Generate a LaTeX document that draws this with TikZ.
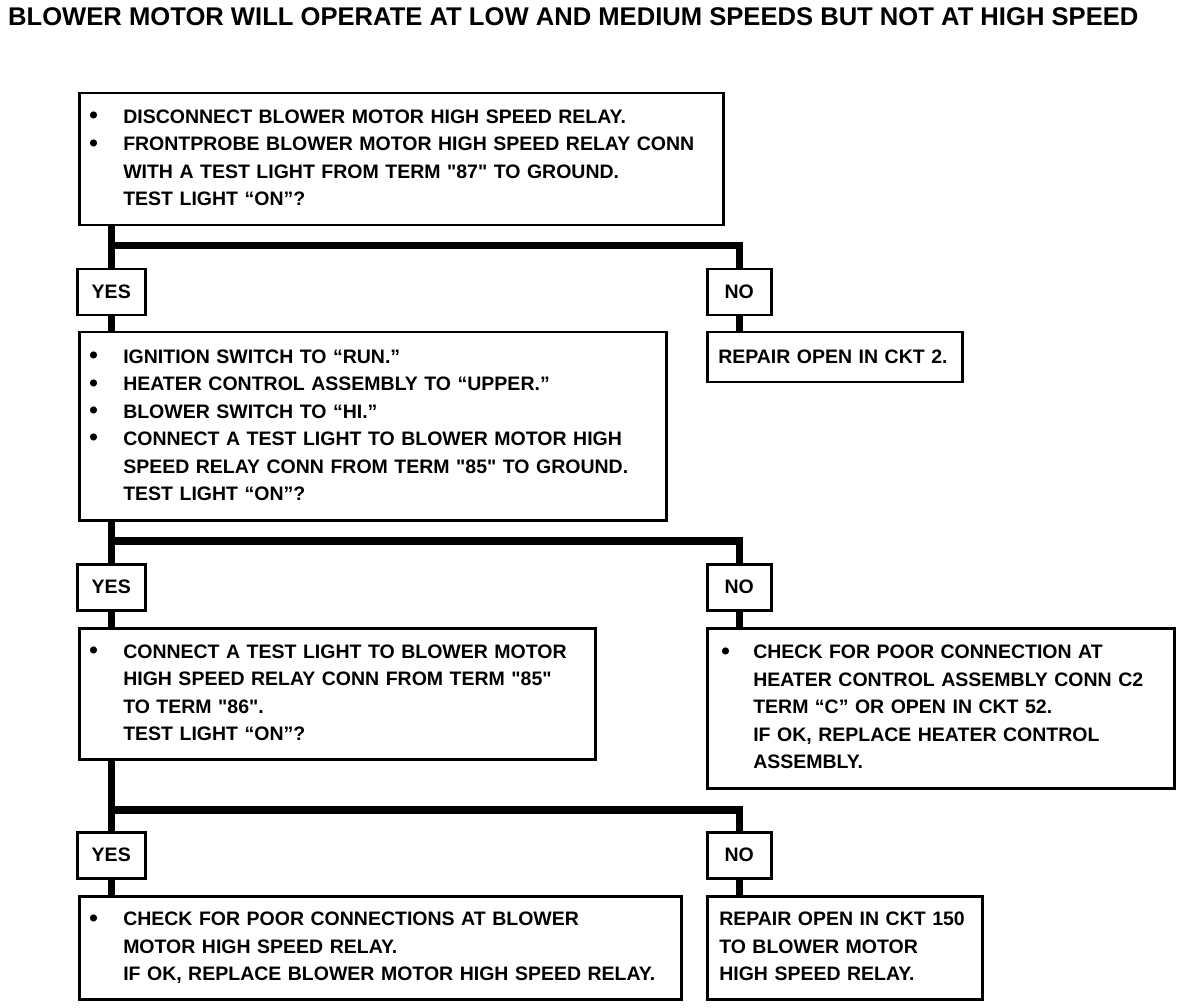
\documentclass[tikz,border=0pt]{standalone}
\usepackage{fontspec}
\setmainfont{Liberation Sans}
\newcommand\bodyfont{\fontsize{19.5}{27.5}\selectfont\bfseries}
\newcommand\titlefont{\fontsize{25.6}{28}\selectfont\bfseries}
\newcommand\qd{\textquotedbl}
\newcommand\bul{\raisebox{-0.5pt}{\scalebox{1.25}{•}}}
\tikzset{
  box/.style={draw, line width=2.5pt, anchor=north west, inner ysep=0pt, font=\bodyfont},
  tag/.style={draw, line width=2.5pt, anchor=north west, inner sep=0pt, font=\bodyfont, minimum height=46pt},
  yestag/.style={tag, minimum width=68pt},
  notag/.style={tag, minimum width=64pt},
  wire/.style={line width=7.5pt, line join=miter, line cap=butt}
}
\begin{document}
\begin{tikzpicture}[x=1pt,y=-1pt]
\useasboundingbox (0,0) rectangle (1184,1008);

\node[anchor=base west, inner sep=0pt, font=\titlefont] (title) at (8,26)
  {BLOWER MOTOR WILL OPERATE AT LOW AND MEDIUM SPEEDS BUT NOT AT HIGH SPEED};

% row 1
\node[box, minimum width=644pt, minimum height=132pt, inner xsep=10pt, text width=624pt] (b1) at (78,92)
  {\begin{tabular}{@{}p{34pt}@{}l@{}}
   \bul & DISCONNECT BLOWER MOTOR HIGH SPEED RELAY.\\
   \bul & FRONTPROBE BLOWER MOTOR HIGH SPEED RELAY CONN\\
     & WITH A TEST LIGHT FROM TERM \qd 87\qd\ TO GROUND.\\
     & TEST LIGHT “ON”?
   \end{tabular}};

\node[yestag] (y1) at (76,268) {YES};
\node[notag] (n1) at (706,268) {NO};

\node[box, minimum width=587pt, minimum height=188pt, inner xsep=10pt, text width=567pt] (b2) at (78,331)
  {\begin{tabular}{@{}p{34pt}@{}l@{}}
   \bul & IGNITION SWITCH TO “RUN.”\\
   \bul & HEATER CONTROL ASSEMBLY TO “UPPER.”\\
   \bul & BLOWER SWITCH TO “HI.”\\
   \bul & CONNECT A TEST LIGHT TO BLOWER MOTOR HIGH\\
     & SPEED RELAY CONN FROM TERM \qd 85\qd\ TO GROUND.\\
     & TEST LIGHT “ON”?
   \end{tabular}};

\node[box, minimum width=255pt, minimum height=50pt, inner xsep=11pt, text width=233pt] (c2) at (706,331)
  {REPAIR OPEN IN CKT 2.};

% row 2
\node[yestag] (y2) at (76,563) {YES};
\node[notag] (n2) at (706,563) {NO};

\node[box, minimum width=516pt, minimum height=131pt, inner xsep=10pt, text width=496pt] (b3) at (78,627)
  {\begin{tabular}{@{}p{34pt}@{}l@{}}
   \bul & CONNECT A TEST LIGHT TO BLOWER MOTOR\\
     & HIGH SPEED RELAY CONN FROM TERM \qd 85\qd\\
     & TO TERM \qd 86\qd.\\
     & TEST LIGHT “ON”?
   \end{tabular}};

\node[box, minimum width=467pt, minimum height=160pt, inner xsep=14pt, text width=439pt] (k3) at (706,627)
  {\begin{tabular}{@{}p{32pt}@{}l@{}}
   \bul & CHECK FOR POOR CONNECTION AT\\
     & HEATER CONTROL ASSEMBLY CONN C2\\
     & TERM “C” OR OPEN IN CKT 52.\\
     & IF OK, REPLACE HEATER CONTROL\\
     & ASSEMBLY.
   \end{tabular}};

% row 3
\node[yestag] (y3) at (76,831) {YES};
\node[notag] (n3) at (706,831) {NO};

\node[box, minimum width=602pt, minimum height=103pt, inner xsep=10pt, text width=582pt] (b4) at (78,895)
  {\begin{tabular}{@{}p{34pt}@{}l@{}}
   \bul & CHECK FOR POOR CONNECTIONS AT BLOWER\\
     & MOTOR HIGH SPEED RELAY.\\
     & IF OK, REPLACE BLOWER MOTOR HIGH SPEED RELAY.
   \end{tabular}};

\node[box, minimum width=275pt, minimum height=103pt, inner xsep=12pt, text width=251pt] (r4) at (706,895)
  {\begin{tabular}{@{}l@{}}
   REPAIR OPEN IN CKT 150\\
   TO BLOWER MOTOR\\
   HIGH SPEED RELAY.
   \end{tabular}};

% connectors
\coordinate (j1) at (110,245.5);
\coordinate (j2) at (110,541);
\coordinate (j3) at (110,810);

\draw[wire] (b1.south -| y1.north) -- (y1.north);
\draw[wire] (j1 -| y1.north) -| (n1.north);
\draw[wire] (y1.south) -- (y1.south |- b2.north);
\draw[wire] (n1.south) -- (n1.south |- c2.north);

\draw[wire] (b2.south -| y2.north) -- (y2.north);
\draw[wire] (j2 -| y2.north) -| (n2.north);
\draw[wire] (y2.south) -- (y2.south |- b3.north);
\draw[wire] (n2.south) -- (n2.south |- k3.north);

\draw[wire] (b3.south -| y3.north) -- (y3.north);
\draw[wire] (j3 -| y3.north) -| (n3.north);
\draw[wire] (y3.south) -- (y3.south |- b4.north);
\draw[wire] (n3.south) -- (n3.south |- r4.north);
\end{tikzpicture}
\end{document}
